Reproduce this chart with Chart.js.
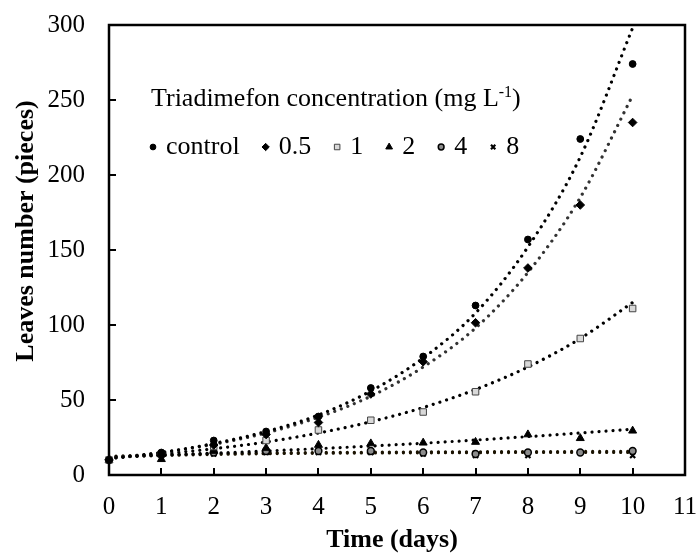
<!DOCTYPE html>
<html>
<head>
<meta charset="utf-8">
<script src="https://cdn.jsdelivr.net/npm/chart.js@4.4.1/dist/chart.umd.min.js"></script>
<style>
  body { margin: 0; background: #fff; }
  canvas { display: block; }
</style>
</head>
<body>
<canvas id="chart" width="698" height="553"></canvas>
<script>
// values
const days = [0, 1, 2, 3, 4, 5, 6, 7, 8, 9, 10]
const xTicks = [0, 1, 2, 3, 4, 5, 6, 7, 8, 9, 10, 11]
const yTicks = [0, 50, 100, 150, 200, 250, 300]
const names = ['control', '0.5', '1', '2', '4', '8']

const control = [10, 15, 23, 29, 39, 58, 79, 113, 157, 224, 274]
const c05 = [10, 13, 20, 27, 35, 54, 75.5, 101.5, 138, 180, 235]
const c1 = [10, 14, 19, 23, 30, 36.5, 42, 55.5, 74, 91, 111]
const c2 = [10, 10.5, 16, 18, 20, 21, 21.5, 22, 27, 24.5, 29.5]
const c4 = [10, 14, 15, 16, 16, 16, 15, 14, 15, 15, 16]
const c8 = [10, 13, 14, 15, 15, 15, 14, 13, 13, 15, 13]

// dotted trend lines, read at each day
const controlTrend = [11, 15, 21, 29, 40, 56, 78, 108, 152, 212, 298]
const c05Trend = [11, 15, 20.5, 28, 38.5, 52.5, 72, 98, 135, 185, 253]
const c1Trend = [11, 14, 17.5, 22, 28, 35.5, 45, 57, 72, 91, 115]
const c2Trend = [12, 13.2, 14.6, 16, 17.6, 19.3, 21.2, 23.3, 25.6, 28, 30.5]
const c4Trend = [12.5, 13.5, 14.2, 14.7, 15, 15.2, 15.4, 15.5, 15.6, 15.7, 15.8]
const c8Trend = [12, 13, 13.7, 14.2, 14.5, 14.7, 14.8, 14.9, 15, 15, 15]

const series = [control, c05, c1, c2, c4, c8]
const trends = [controlTrend, c05Trend, c1Trend, c2Trend, c4Trend, c8Trend]

const styles = [
  { pointStyle: 'circle', radius: 3.4, fill: '#000', stroke: '#000', bw: 1, trend: '#000' },
  { pointStyle: 'rectRot', radius: 4.3, fill: '#000', stroke: '#000', bw: 1, trend: '#333' },
  { pointStyle: 'rect', radius: 4.6, fill: '#d9d9d9', stroke: '#444', bw: 1, trend: '#000' },
  { pointStyle: 'triangle', radius: 4.6, fill: '#000', stroke: '#000', bw: 1, trend: '#000' },
  { pointStyle: 'circle', radius: 3.4, fill: '#8c8c8c', stroke: '#000', bw: 1.5, trend: '#1a1200' },
  { pointStyle: 'crossRot', radius: 3.6, fill: '#000', stroke: '#000', bw: 2.2, trend: '#1a1200' }
]

const toXY = arr => days.map((d, i) => ({ x: d, y: arr[i] }))

const datasets = []
series.forEach((arr, i) => {
  const s = styles[i]
  datasets.push({
    label: names[i],
    data: toXY(arr),
    showLine: false,
    pointStyle: s.pointStyle,
    pointRadius: s.radius,
    pointBackgroundColor: s.fill,
    pointBorderColor: s.stroke,
    pointBorderWidth: s.bw,
    clip: 10,
    order: 0
  })
})
trends.forEach((arr, i) => {
  datasets.push({
    label: names[i] + ' trend',
    data: toXY(arr),
    showLine: true,
    pointRadius: 0,
    borderColor: styles[i].trend,
    borderWidth: 3.2,
    borderDash: [0.01, 7],
    borderCapStyle: 'round',
    cubicInterpolationMode: 'monotone',
    order: 1
  })
})

const serif = '"Liberation Serif", "Times New Roman", serif'

const overlay = {
  id: 'overlay',
  beforeDatasetsDraw(chart) {
    const { ctx, chartArea: a } = chart
    ctx.save()
    ctx.strokeStyle = '#000'
    ctx.lineWidth = 2.5
    ctx.strokeRect(a.left, a.top, a.right - a.left, a.bottom - a.top)
    ctx.restore()
  },
  afterDraw(chart) {
    const { ctx, chartArea: a } = chart
    ctx.save()
    ctx.fillStyle = '#000'
    ctx.textBaseline = 'alphabetic'

    // legend title with superscript
    ctx.textAlign = 'left'
    ctx.font = '26px ' + serif
    const t1 = 'Triadimefon concentration (mg L'
    ctx.fillText(t1, 151, 106)
    let w = ctx.measureText(t1).width
    ctx.font = '16px ' + serif
    ctx.fillText('-1', 151 + w, 97)
    w += ctx.measureText('-1').width
    ctx.font = '26px ' + serif
    ctx.fillText(')', 151 + w, 106)

    // legend items
    let x = a.left + 44
    names.forEach((name, i) => {
      const s = styles[i]
      ctx.fillStyle = s.fill
      ctx.strokeStyle = s.stroke
      ctx.lineWidth = s.bw
      Chart.helpers.drawPoint(ctx, { pointStyle: s.pointStyle, radius: s.radius * 0.85, borderWidth: s.bw, rotation: 0 }, x, 147)
      ctx.fillStyle = '#000'
      ctx.font = '26px ' + serif
      ctx.fillText(name, x + 13, 154)
      x += 13 + ctx.measureText(name).width + 26
    })

    // axis titles
    ctx.font = 'bold 26px ' + serif
    ctx.textAlign = 'center'
    ctx.fillText('Time (days)', 392, 547)
    ctx.translate(33, 231)
    ctx.rotate(-Math.PI / 2)
    ctx.fillText('Leaves number (pieces)', 0, 0)
    ctx.restore()
  }
}

Chart.defaults.font.family = serif
Chart.defaults.color = '#000'

new Chart(document.getElementById('chart'), {
  type: 'scatter',
  data: { datasets },
  options: {
    responsive: false,
    animation: false,
    layout: { padding: { left: 0, right: 13, top: 25, bottom: 0 } },
    plugins: { legend: { display: false }, tooltip: { enabled: false } },
    scales: {
      x: {
        type: 'linear',
        min: 0,
        max: 11,
        afterFit: s => { s.height = 78; s.paddingLeft = 0; s.paddingRight = 0 },
        afterBuildTicks: s => { s.ticks = xTicks.map(v => ({ value: v })) },
        ticks: { padding: 24, font: { size: 25 }, color: '#000', maxRotation: 0, autoSkip: false },
        grid: { drawOnChartArea: false, tickLength: -7, lineWidth: 2, color: '#000' },
        border: { display: false }
      },
      y: {
        min: 0,
        max: 300,
        afterFit: s => { s.width = 109; s.paddingTop = 0; s.paddingBottom = 0 },
        afterBuildTicks: s => { s.ticks = yTicks.map(v => ({ value: v })) },
        ticks: { padding: 31, font: { size: 25 }, color: '#000' },
        grid: { drawOnChartArea: false, tickLength: -7, lineWidth: 2, color: '#000' },
        border: { display: false }
      }
    }
  },
  plugins: [overlay]
})
</script>
</body>
</html>
